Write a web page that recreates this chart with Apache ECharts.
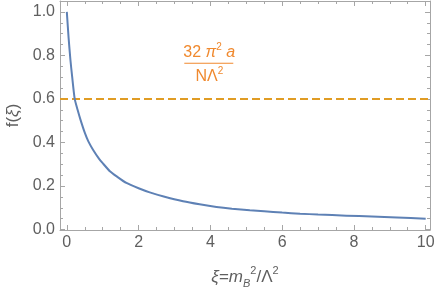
<!DOCTYPE html>
<html><head><meta charset="utf-8">
<script src="https://cdn.jsdelivr.net/npm/echarts@6/dist/echarts.min.js"></script>
<style>html,body{margin:0;padding:0;background:#fff}#c{width:436px;height:290px}</style>
</head><body><div id="c"></div>
<script>
const xiValues = [0, 0.05, 0.1, 0.15, 0.22, 0.3, 0.38, 0.5, 0.6, 0.73, 0.9, 1.0, 1.2, 1.4, 1.66, 2.0, 2.31, 2.7, 3.24, 3.7, 4.17, 4.6, 5.1, 5.5, 6.0, 6.5, 7.0, 7.79, 8.5, 9.2, 10];
const fValues  = [1.0, 0.88, 0.78, 0.70, 0.60, 0.55, 0.505, 0.445, 0.405, 0.367, 0.325, 0.305, 0.268, 0.243, 0.214, 0.19, 0.171, 0.152, 0.13, 0.116, 0.104, 0.096, 0.089, 0.084, 0.078, 0.073, 0.069, 0.064, 0.0595, 0.055, 0.050];
const constLevel = 0.6;
const xMajorTicks = [0, 2, 4, 6, 8, 10];
const xMinorTicks = [0.5, 1, 1.5, 2.5, 3, 3.5, 4.5, 5, 5.5, 6.5, 7, 7.5, 8.5, 9, 9.5];
const yMajorTicks = [0, 0.2, 0.4, 0.6, 0.8, 1.0];
const yMinorTicks = [0.05, 0.1, 0.15, 0.25, 0.3, 0.35, 0.45, 0.5, 0.55, 0.65, 0.7, 0.75, 0.85, 0.9, 0.95];
const labelAnchor = [3.97, 0.764];

const FONT = "'Liberation Sans', Arial, sans-serif";
const FRAME = '#a6a6a6';
const TXT = '#5f5f5f';
const BLUE = '#5e81b5';
const ORANGE = '#e09c24';
const LABEL_ORANGE = '#f0892e';
const XMIN = -0.19, XMAX = 10.12, YMIN = -0.002, YMAX = 1.05;

function xAx(pos, ticks, len, showLine, labels, extra) {
  return Object.assign({
    type: 'value', position: pos, min: XMIN, max: XMAX,
    axisLine: { show: showLine, onZero: false, lineStyle: { color: FRAME, width: 1 } },
    axisTick: { show: true, inside: true, length: len, customValues: ticks, lineStyle: { color: FRAME, width: 1 } },
    axisLabel: labels ? { show: true, customValues: ticks, color: TXT, fontSize: 16, fontFamily: FONT, margin: 5,
      formatter: v => String(v) } : { show: false },
    splitLine: { show: false }
  }, extra || {});
}
function yAx(pos, ticks, len, showLine, labels, extra) {
  return Object.assign({
    type: 'value', position: pos, min: YMIN, max: YMAX,
    axisLine: { show: showLine, onZero: false, lineStyle: { color: FRAME, width: 1 } },
    axisTick: { show: true, inside: true, length: len, customValues: ticks, lineStyle: { color: FRAME, width: 1 } },
    axisLabel: labels ? { show: true, customValues: ticks, color: TXT, fontSize: 16, fontFamily: FONT, margin: 5,
      formatter: v => v.toFixed(1) } : { show: false },
    splitLine: { show: false }
  }, extra || {});
}

const chart = echarts.init(document.getElementById('c'), null, { renderer: 'canvas' });
chart.setOption({
  animation: false,
  backgroundColor: '#fff',
  grid: { left: 60, right: 6, top: 1, bottom: 60, containLabel: false, outerBoundsMode: 'none' },
  xAxis: [
    xAx('bottom', xMajorTicks, 5, true, true, {
      name: '{it|ξ}{n|=}{it|m}{sub|B}{sup|2}{n|/Λ}{sup|2}', nameLocation: 'middle', nameGap: 35,
      nameTextStyle: { color: TXT, fontFamily: FONT, rich: {
        n: { fontSize: 17, fontFamily: FONT, color: TXT, lineHeight: 24 },
        it: { fontSize: 17, fontFamily: FONT, fontStyle: 'italic', color: TXT, lineHeight: 24 },
        sub: { fontSize: 11, fontFamily: FONT, fontStyle: 'italic', color: TXT, verticalAlign: 'bottom', lineHeight: 11 },
        sup: { fontSize: 11, fontFamily: FONT, color: TXT, verticalAlign: 'top', lineHeight: 11 }
      } }
    }),
    xAx('top', xMajorTicks, 5, true, false),
    xAx('bottom', xMinorTicks, 3, false, false),
    xAx('top', xMinorTicks, 3, false, false)
  ],
  yAxis: [
    yAx('left', yMajorTicks, 5, true, true, {
      name: '{n|f(}{it|ξ}{n|)}', nameLocation: 'middle', nameGap: 38, nameRotate: 90,
      nameTextStyle: { color: TXT, fontFamily: FONT, rich: {
        n: { fontSize: 17, fontFamily: FONT, color: TXT },
        it: { fontSize: 17, fontFamily: FONT, fontStyle: 'italic', color: TXT }
      } }
    }),
    yAx('right', yMajorTicks, 5, true, false),
    yAx('left', yMinorTicks, 3, false, false),
    yAx('right', yMinorTicks, 3, false, false)
  ],
  series: [
    {
      type: 'line', xAxisIndex: 0, yAxisIndex: 0,
      data: xiValues.map((x, i) => [x, fValues[i]]),
      smooth: 0.2, showSymbol: false, symbol: 'none',
      lineStyle: { color: BLUE, width: 2 }, z: 3
    },
    {
      type: 'line', xAxisIndex: 0, yAxisIndex: 0,
      data: [[XMIN, constLevel], [XMAX, constLevel]],
      showSymbol: false, symbol: 'none',
      lineStyle: { color: ORANGE, width: 2, type: [8, 4] }, z: 2
    }
  ]
});

const p = chart.convertToPixel({ xAxisIndex: 0, yAxisIndex: 0 }, labelAnchor);
const cx = p[0], cy = p[1];
const rich = {
  n: { fontSize: 16, fontFamily: FONT, fill: LABEL_ORANGE, lineHeight: 20 },
  it: { fontSize: 16, fontFamily: FONT, fontStyle: 'italic', fill: LABEL_ORANGE, lineHeight: 20 },
  sup: { fontSize: 10, fontFamily: FONT, fill: LABEL_ORANGE, verticalAlign: 'top', lineHeight: 10 }
};
chart.setOption({
  graphic: [
    { type: 'text', x: cx, y: cy - 1, z: 10, style: {
      text: '{n|32 }{it|π}{sup|2}{n| }{it|a}', align: 'center', verticalAlign: 'bottom', rich: rich } },
    { type: 'line', z: 10, shape: { x1: cx - 25, y1: cy, x2: cx + 24, y2: cy },
      style: { stroke: LABEL_ORANGE, lineWidth: 1.2 } },
    { type: 'text', x: cx, y: cy + 3, z: 10, style: {
      text: '{n|NΛ}{sup|2}', align: 'center', verticalAlign: 'top', rich: rich } }
  ]
});
</script></body></html>
